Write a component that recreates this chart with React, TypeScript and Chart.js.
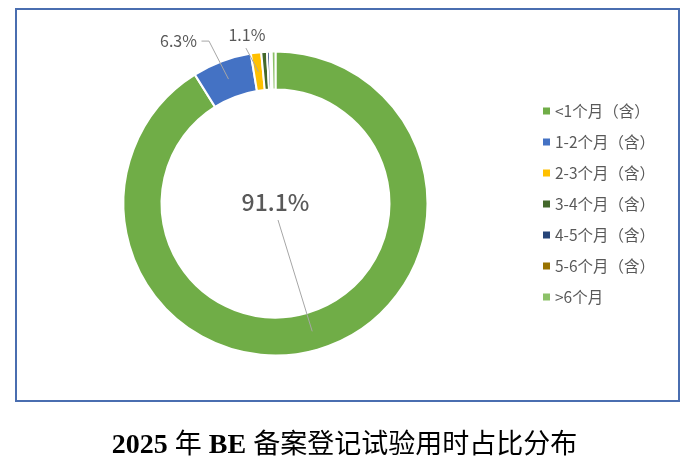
import React, { useEffect, useRef } from "react";
import { Chart, registerables } from "chart.js";

Chart.register(...registerables);

// ---- data ----
const categories = [
  "<1个月（含）",
  "1-2个月（含）",
  "2-3个月（含）",
  "3-4个月（含）",
  "4-5个月（含）",
  "5-6个月（含）",
  ">6个月",
];
const shares = [91.1, 6.3, 1.1, 0.6, 0.3, 0.2, 0.4];
const sliceColors = ["#70AD47", "#4472C4", "#FFC000", "#43682B", "#264478", "#997300", "#8CC168"];
const labelledSlices = [0, 1, 2];
const titleText = "2025 年 BE 备案登记试验用时占比分布";

const TEXT_GRAY = "#595959";
const LINE_GRAY = "#A6A6A6";
const CJK_SANS = "'Noto Sans CJK SC', 'Noto Sans', sans-serif";

const fmt = (v: number) => `${v.toFixed(1)}%`;

const labelPlugin = {
  id: "donutLabels",
  afterDatasetsDraw(chart: any) {
    const ctx = chart.ctx as CanvasRenderingContext2D;
    const meta = chart.getDatasetMeta(0);
    const area = chart.chartArea;
    const cx = (area.left + area.right) / 2;
    const cy = (area.top + area.bottom) / 2;
    const values = chart.data.datasets[0].data as number[];
    ctx.save();
    ctx.strokeStyle = LINE_GRAY;
    ctx.lineWidth = 1;
    ctx.fillStyle = TEXT_GRAY;
    ctx.textBaseline = "middle";
    labelledSlices.forEach((i) => {
      const arc = meta.data[i];
      if (!arc) return;
      const tp = arc.tooltipPosition();
      const text = fmt(values[i]);
      ctx.beginPath();
      if (i === 0) {
        ctx.font = `500 23px ${CJK_SANS}`;
        ctx.textAlign = "center";
        ctx.fillText(text, cx, cy - 1.5);
        ctx.moveTo(cx + 2.5, cy + 16.5);
        ctx.lineTo(tp.x, tp.y);
      } else if (i === 1) {
        ctx.font = `16px ${CJK_SANS}`;
        ctx.textAlign = "right";
        ctx.fillText(text, tp.x - 31.5, tp.y - 38);
        ctx.moveTo(tp.x, tp.y);
        ctx.lineTo(tp.x - 19.5, tp.y - 38);
        ctx.lineTo(tp.x - 27, tp.y - 38);
      } else {
        ctx.font = `16px ${CJK_SANS}`;
        ctx.textAlign = "center";
        ctx.fillText(text, tp.x - 11.5, tp.y - 36.5);
        ctx.moveTo(tp.x, tp.y);
        ctx.lineTo(tp.x - 12.5, tp.y - 23.5);
      }
      ctx.stroke();
    });
    ctx.restore();
  },
};

const legendPlugin = {
  id: "sideLegend",
  afterDraw(chart: any) {
    const ctx = chart.ctx as CanvasRenderingContext2D;
    const labels = chart.data.labels as string[];
    const colors = chart.data.datasets[0].backgroundColor as string[];
    ctx.save();
    ctx.font = `15.5px ${CJK_SANS}`;
    ctx.textBaseline = "middle";
    ctx.textAlign = "left";
    labels.forEach((lab, i) => {
      const y = 111 + i * 31;
      ctx.fillStyle = colors[i];
      ctx.fillRect(543, y - 3.5, 7, 7);
      ctx.fillStyle = TEXT_GRAY;
      ctx.fillText(lab, 555, y + 0.5);
    });
    ctx.restore();
  },
};

function TitleText() {
  const runs = titleText.match(/[\u3400-\u9fff]+|[^\u3400-\u9fff]+/g) || [];
  return (
    <>
      {runs.map((r, i) =>
        /[\u3400-\u9fff]/.test(r) ? (
          <span key={i} style={{ fontFamily: CJK_SANS, fontWeight: 400, fontSize: 27, letterSpacing: "0px" }}>
            {r}
          </span>
        ) : (
          <span key={i} style={{ fontFamily: "'Liberation Serif', serif", fontWeight: 700, fontSize: 28 }}>
            {r}
          </span>
        )
      )}
    </>
  );
}

export default function App() {
  const ref = useRef<HTMLCanvasElement | null>(null);

  useEffect(() => {
    if (!ref.current) return;
    const chart = new Chart(ref.current, {
      type: "doughnut",
      data: {
        labels: categories,
        datasets: [
          {
            data: shares,
            backgroundColor: sliceColors,
            borderColor: "#FFFFFF",
            borderWidth: 2,
            hoverOffset: 0,
          },
        ],
      },
      options: {
        responsive: false,
        animation: false,
        cutout: "75%",
        radius: 152,
        layout: { padding: { left: 124, top: 52, right: 267, bottom: 111 } },
        plugins: {
          legend: { display: false },
          tooltip: { enabled: false },
          title: { display: false },
        },
        events: [],
      } as any,
      plugins: [labelPlugin, legendPlugin],
    });
    return () => chart.destroy();
  }, []);

  return (
    <div style={{ position: "fixed", left: 0, top: 0, width: 694, height: 466, background: "#fff", overflow: "hidden" }}>
      <div
        style={{
          position: "absolute",
          left: 15,
          top: 8,
          width: 665,
          height: 394,
          border: "2px solid #4A6EB0",
          boxSizing: "border-box",
        }}
      />
      <canvas ref={ref} width={694} height={466} style={{ position: "absolute", left: 0, top: 0, width: 694, height: 466 }} />
      <div
        style={{
          position: "absolute",
          left: 0,
          top: 426,
          width: 689,
          textAlign: "center",
          fontSize: 28,
          lineHeight: "32px",
          color: "#000",
          whiteSpace: "nowrap",
        }}
      >
        <TitleText />
      </div>
    </div>
  );
}
